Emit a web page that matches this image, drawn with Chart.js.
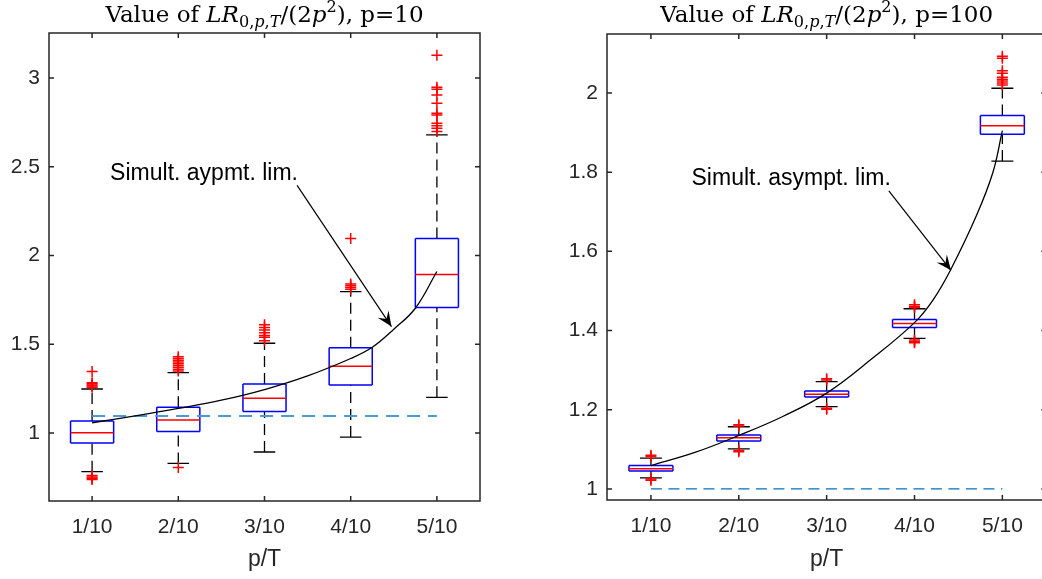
<!DOCTYPE html>
<html>
<head>
<meta charset="utf-8">
<script src="https://cdn.jsdelivr.net/npm/chart.js@4/dist/chart.umd.min.js"></script>
<style>
  body { margin: 0; width: 1042px; height: 579px; overflow: hidden; background: #fff; position: relative; }
  #left { position: absolute; left: 0; top: 0; }
  #right { position: absolute; left: 520px; top: 0; }
</style>
</head>
<body>
<canvas id="left" width="520" height="579"></canvas>
<canvas id="right" width="560" height="579"></canvas>
<script>
// categories / ticks
const categories = ['1/10', '2/10', '3/10', '4/10', '5/10'];
const xTicks = [1, 2, 3, 4, 5];

// p = 10 boxes
const p10Q1 = [0.944, 1.009, 1.122, 1.271, 1.707];
const p10Median = [1.002, 1.073, 1.196, 1.376, 1.893];
const p10Q3 = [1.068, 1.145, 1.276, 1.481, 2.096];
const p10WhiskerLow = [0.782, 0.829, 0.893, 0.977, 1.201];
const p10WhiskerHigh = [1.248, 1.340, 1.506, 1.797, 2.680];
const p10Outliers = [
  [1.346, 1.283, 1.277, 1.270, 1.265, 1.258, 0.760, 0.752, 0.745, 0.738],
  [1.430, 1.420, 1.410, 1.400, 1.390, 1.380, 1.370, 1.360, 1.350, 0.806],
  [1.610, 1.595, 1.580, 1.565, 1.550, 1.540, 1.520],
  [2.096, 1.840, 1.830, 1.820, 1.810],
  [3.128, 2.949, 2.937, 2.905, 2.858, 2.802, 2.792, 2.746, 2.731, 2.718, 2.699]
];
const p10LimitX = [1, 1.5, 2, 2.5, 3, 3.5, 4, 4.25, 4.5, 4.75, 5];
const p10LimitY = [1.058, 1.097, 1.139, 1.185, 1.245, 1.322, 1.420, 1.483, 1.585, 1.703, 1.910];
const p10Reference = 1.096;
const p10YTicks = [1, 1.5, 2, 2.5, 3];

// p = 100 boxes
const p100Q1 = [1.045, 1.121, 1.232, 1.408, 1.896];
const p100Median = [1.051, 1.129, 1.239, 1.418, 1.917];
const p100Q3 = [1.059, 1.136, 1.247, 1.428, 1.943];
const p100WhiskerLow = [1.028, 1.101, 1.208, 1.380, 1.828];
const p100WhiskerHigh = [1.078, 1.157, 1.271, 1.455, 2.012];
const p100Outliers = [
  [1.085, 1.082, 1.025, 1.022],
  [1.162, 1.159, 1.097, 1.094],
  [1.278, 1.275, 1.204, 1.201],
  [1.465, 1.461, 1.458, 1.376, 1.372, 1.369],
  [2.093, 2.088, 2.056, 2.050, 2.040, 2.035, 2.030, 2.025, 2.020]
];
const p100LimitX = [1, 1.5, 2, 2.5, 3, 3.5, 4, 4.21, 4.41, 4.7, 4.89, 5];
const p100LimitY = [1.059, 1.092, 1.135, 1.183, 1.242, 1.326, 1.420, 1.477, 1.553, 1.688, 1.798, 1.905];
const p100Reference = 1.0;
const p100YTicks = [1, 1.2, 1.4, 1.6, 1.8, 2];

const BOX_HALF = 0.25;
const CAP_HALF = 0.125;
const AXIS_COLOR = '#262626';

Chart.defaults.font.family = '"Liberation Sans", Arial, sans-serif';
Chart.defaults.color = AXIS_COLOR;

// turn [x1,y1,x2,y2] pieces into one broken polyline
function segs(list) {
  const pts = [];
  list.forEach(s => {
    pts.push({x: s[0], y: s[1]}, {x: s[2], y: s[3]}, {x: s[2], y: null});
  });
  return pts;
}

function buildDatasets(q1, med, q3, wl, wh, outl, limX, limY, ref, refStyle) {
  const boxes = [], medians = [], whiskers = [], caps = [], fliers = [];
  xTicks.forEach((c, i) => {
    const l = c - BOX_HALF, r = c + BOX_HALF;
    boxes.push([l, q1[i], r, q1[i]], [r, q1[i], r, q3[i]], [r, q3[i], l, q3[i]], [l, q3[i], l, q1[i]]);
    medians.push([l, med[i], r, med[i]]);
    whiskers.push([c, q3[i], c, wh[i]], [c, wl[i], c, q1[i]]);
    caps.push([c - CAP_HALF, wh[i], c + CAP_HALF, wh[i]], [c - CAP_HALF, wl[i], c + CAP_HALF, wl[i]]);
    outl[i].forEach(v => fliers.push({x: c, y: v}));
  });
  const line = (data, color, width, dash, order) => ({
    data, showLine: true, borderColor: color, borderWidth: width, borderDash: dash || [],
    pointRadius: 0, fill: false, spanGaps: false, order
  });
  return [
    {data: fliers, showLine: false, pointStyle: 'cross', pointRadius: 5.5,
     borderColor: '#ff0000', backgroundColor: '#ff0000', pointBorderWidth: 1.5, order: 1},
    Object.assign(line(limX.map((x, i) => ({x, y: limY[i]})), '#000000', 1.3, [], 2), {tension: 0.4}),
    line(segs([[xTicks[0], ref, xTicks[xTicks.length - 1], ref]]), refStyle.color, refStyle.width, refStyle.dash, 3),
    line(segs(medians), '#ff0000', 1.5, [], 4),
    line(segs(boxes), '#0000ff', 1.5, [], 5),
    line(segs(caps), '#000000', 1.3, [], 6),
    line(segs(whiskers), '#000000', 1.3, [11, 6], 7)
  ];
}

function drawArrow(ctx, x0, y0, x1, y1) {
  ctx.beginPath();
  ctx.moveTo(x0, y0);
  ctx.lineTo(x1, y1);
  ctx.stroke();
  const ang = Math.atan2(y1 - y0, x1 - x0);
  const L = 15, W = 6.5, notch = 9;
  const ux = Math.cos(ang), uy = Math.sin(ang);
  ctx.beginPath();
  ctx.moveTo(x1, y1);
  ctx.lineTo(x1 - L * ux - W * uy, y1 - L * uy + W * ux);
  ctx.lineTo(x1 - notch * ux, y1 - notch * uy);
  ctx.lineTo(x1 - L * ux + W * uy, y1 - L * uy - W * ux);
  ctx.closePath();
  ctx.fill();
}

function drawTitle(ctx, cx, base, parts, size) {
  const fontFor = (p) => {
    const s = p[2] === 'n' ? size : size * 0.7;
    return (p[1] ? 'italic ' : '') + s + 'px "DejaVu Serif", "Liberation Serif", serif';
  };
  let total = 0;
  parts.forEach(p => { ctx.font = fontFor(p); total += ctx.measureText(p[0]).width; });
  let x = cx - total / 2;
  ctx.textBaseline = 'alphabetic';
  ctx.textAlign = 'left';
  ctx.fillStyle = '#000000';
  parts.forEach(p => {
    ctx.font = fontFor(p);
    const dy = p[2] === 'sub' ? size * 0.22 : p[2] === 'sup' ? -size * 0.42 : 0;
    ctx.fillText(p[0], x, base + dy);
    x += ctx.measureText(p[0]).width;
  });
}

const decor = {
  id: 'decor',
  afterDatasetsDraw(chart, args, o) {
    const {ctx, chartArea: a, scales: {x, y}} = chart;
    ctx.save();
    // frame and inward ticks
    ctx.strokeStyle = AXIS_COLOR;
    ctx.lineWidth = 1.5;
    ctx.setLineDash([]);
    ctx.strokeRect(a.left, a.top, a.right - a.left, a.bottom - a.top);
    ctx.beginPath();
    x.ticks.forEach(t => {
      const px = x.getPixelForValue(t.value);
      ctx.moveTo(px, a.bottom); ctx.lineTo(px, a.bottom - 5);
      ctx.moveTo(px, a.top); ctx.lineTo(px, a.top + 5);
    });
    y.ticks.forEach(t => {
      const py = y.getPixelForValue(t.value);
      ctx.moveTo(a.left, py); ctx.lineTo(a.left + 5, py);
      ctx.moveTo(a.right, py); ctx.lineTo(a.right - 5, py);
    });
    ctx.stroke();
    // annotation text + arrow
    ctx.fillStyle = '#000000';
    ctx.strokeStyle = '#000000';
    ctx.lineWidth = 1.2;
    ctx.font = '23px "Liberation Sans", Arial, sans-serif';
    ctx.textAlign = 'left';
    ctx.textBaseline = 'alphabetic';
    ctx.fillText(o.note, x.getPixelForValue(o.noteAt[0]), y.getPixelForValue(o.noteAt[1]));
    drawArrow(ctx, x.getPixelForValue(o.arrowFrom[0]), y.getPixelForValue(o.arrowFrom[1]),
      x.getPixelForValue(o.arrowTo[0]), y.getPixelForValue(o.arrowTo[1]));
    // title
    drawTitle(ctx, (a.left + a.right) / 2, o.titleBase, o.title, 23);
    ctx.restore();
  }
};

function makeChart(id, datasets, yMin, yMax, yTicks, geo, deco) {
  return new Chart(document.getElementById(id), {
    type: 'scatter',
    data: {datasets},
    plugins: [decor],
    options: {
      responsive: false,
      animation: false,
      events: [],
      layout: {padding: {top: geo.top, right: geo.right, left: 0, bottom: 0}},
      plugins: {legend: {display: false}, tooltip: {enabled: false}, decor: deco},
      scales: {
        x: {
          type: 'linear', min: 0.5, max: 5.5,
          grid: {display: false, drawTicks: false}, border: {display: false},
          afterBuildTicks: s => { s.ticks = xTicks.map(v => ({value: v})); },
          afterFit: s => { s.height = geo.xHeight; },
          ticks: {autoSkip: false, maxRotation: 0, padding: 14, font: {size: 21},
                  callback: v => categories[xTicks.indexOf(v)]},
          title: {display: true, text: 'p/T', font: {size: 23}, padding: {top: 0, bottom: 6}}
        },
        y: {
          type: 'linear', min: yMin, max: yMax,
          grid: {display: false, drawTicks: false}, border: {display: false},
          afterBuildTicks: s => { s.ticks = yTicks.map(v => ({value: v})); },
          afterFit: s => { s.width = geo.yWidth; },
          ticks: {padding: 9, font: {size: 21}, callback: v => String(Math.round(v * 100) / 100)}
        }
      }
    }
  });
}

makeChart('left',
  buildDatasets(p10Q1, p10Median, p10Q3, p10WhiskerLow, p10WhiskerHigh, p10Outliers,
    p10LimitX, p10LimitY, p10Reference, {color: '#4a9ad6', width: 2, dash: [13, 8]}),
  0.617, 3.254, p10YTicks,
  {top: 33, right: 40, xHeight: 78, yWidth: 49},
  {
    note: 'Simult. aypmt. lim.', noteAt: [1.209, 2.427],
    arrowFrom: [3.378, 2.395], arrowTo: [4.473, 1.600],
    titleBase: 22,
    title: [['Value of ', false, 'n'], ['LR', true, 'n'], ['0,', false, 'sub'], ['p', true, 'sub'],
            [',', false, 'sub'], ['T', true, 'sub'], ['/(2', false, 'n'], ['p', true, 'n'],
            ['2', false, 'sup'], ['), p=10', false, 'n']]
  });

makeChart('right',
  buildDatasets(p100Q1, p100Median, p100Q3, p100WhiskerLow, p100WhiskerHigh, p100Outliers,
    p100LimitX, p100LimitY, p100Reference, {color: '#0072bd', width: 1.3, dash: [11, 6.5]}),
  0.972, 2.149, p100YTicks,
  {top: 34, right: 33.7, xHeight: 79, yWidth: 87},
  {
    note: 'Simult. asympt. lim.', noteAt: [1.462, 1.768],
    arrowFrom: [3.708, 1.753], arrowTo: [4.415, 1.552],
    titleBase: 22,
    title: [['Value of ', false, 'n'], ['LR', true, 'n'], ['0,', false, 'sub'], ['p', true, 'sub'],
            [',', false, 'sub'], ['T', true, 'sub'], ['/(2', false, 'n'], ['p', true, 'n'],
            ['2', false, 'sup'], ['), p=100', false, 'n']]
  });
</script>
</body>
</html>
